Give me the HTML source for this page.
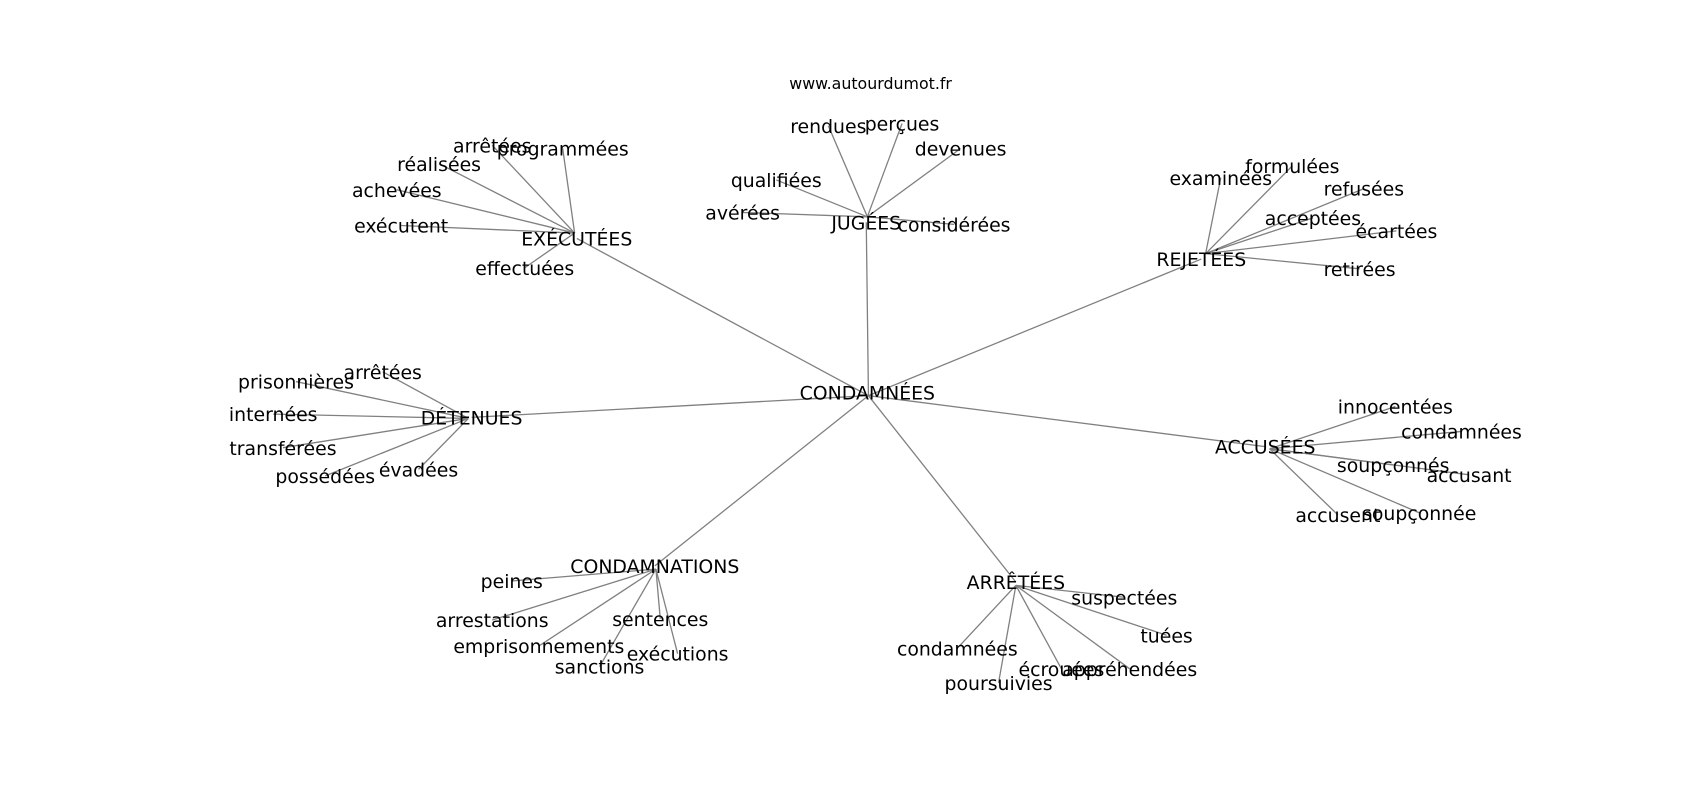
<!DOCTYPE html>
<html><head><meta charset="utf-8"><style>
html,body{margin:0;padding:0;background:#fff;width:1700px;height:800px;overflow:hidden}
svg text{font-family:"DejaVu Sans","Liberation Sans",sans-serif;font-size:17.4px;fill:#000;text-anchor:middle;dominant-baseline:central}
svg line{stroke:#808080;stroke-width:1.2}
</style></head><body>
<svg width="1700" height="800" viewBox="0 0 1568 738" preserveAspectRatio="none" xmlns="http://www.w3.org/2000/svg">
<g>
<line x1="801" y1="365" x2="799" y2="205"/>
<line x1="801" y1="365" x2="532" y2="220"/>
<line x1="801" y1="365" x2="1108" y2="239"/>
<line x1="801" y1="365" x2="435" y2="385"/>
<line x1="801" y1="365" x2="1167" y2="412"/>
<line x1="801" y1="365" x2="604" y2="522"/>
<line x1="801" y1="365" x2="937" y2="537"/>
<line x1="800" y1="200" x2="764" y2="116"/>
<line x1="800" y1="200" x2="832" y2="114"/>
<line x1="800" y1="200" x2="886" y2="137"/>
<line x1="800" y1="200" x2="716" y2="166"/>
<line x1="800" y1="200" x2="685" y2="196"/>
<line x1="800" y1="200" x2="880" y2="207"/>
<line x1="530" y1="215" x2="454" y2="134"/>
<line x1="530" y1="215" x2="519" y2="137"/>
<line x1="530" y1="215" x2="405" y2="151"/>
<line x1="530" y1="215" x2="366" y2="175"/>
<line x1="530" y1="215" x2="370" y2="208"/>
<line x1="530" y1="215" x2="484" y2="247"/>
<line x1="1112" y1="234" x2="1126" y2="164"/>
<line x1="1112" y1="234" x2="1192" y2="153"/>
<line x1="1112" y1="234" x2="1258" y2="174"/>
<line x1="1112" y1="234" x2="1211" y2="201"/>
<line x1="1112" y1="234" x2="1288" y2="213"/>
<line x1="1112" y1="234" x2="1254" y2="248"/>
<line x1="432" y1="386" x2="353" y2="343"/>
<line x1="432" y1="386" x2="273" y2="352"/>
<line x1="432" y1="386" x2="252" y2="382"/>
<line x1="432" y1="386" x2="261" y2="413"/>
<line x1="432" y1="386" x2="300" y2="439"/>
<line x1="432" y1="386" x2="386" y2="433"/>
<line x1="1171" y1="414" x2="1287" y2="375"/>
<line x1="1171" y1="414" x2="1348" y2="398"/>
<line x1="1171" y1="414" x2="1285" y2="429"/>
<line x1="1171" y1="414" x2="1355" y2="438"/>
<line x1="1171" y1="414" x2="1234" y2="475"/>
<line x1="1171" y1="414" x2="1309" y2="473"/>
<line x1="605" y1="525" x2="472" y2="536"/>
<line x1="605" y1="525" x2="454" y2="572"/>
<line x1="605" y1="525" x2="609" y2="571"/>
<line x1="605" y1="525" x2="497" y2="596"/>
<line x1="605" y1="525" x2="625" y2="603"/>
<line x1="605" y1="525" x2="553" y2="615"/>
<line x1="937" y1="540" x2="1037" y2="551"/>
<line x1="937" y1="540" x2="1076" y2="586"/>
<line x1="937" y1="540" x2="883" y2="598"/>
<line x1="937" y1="540" x2="921" y2="630"/>
<line x1="937" y1="540" x2="979" y2="617"/>
<line x1="937" y1="540" x2="1042" y2="617"/>
</g>
<g transform="translate(0,1)">
<text x="803" y="76" style="font-size:14.6px">www.autourdumot.fr</text>
<text x="800" y="362">CONDAMNÉES</text>
<text x="799" y="205">JUGÉES</text>
<text x="532" y="220">EXÉCUTÉES</text>
<text x="1108" y="239">REJETÉES</text>
<text x="435" y="385">DÉTENUES</text>
<text x="1167" y="412">ACCUSÉES</text>
<text x="604" y="522">CONDAMNATIONS</text>
<text x="937" y="537">ARRÊTÉES</text>
<text x="764" y="116">rendues</text>
<text x="832" y="114">perçues</text>
<text x="886" y="137">devenues</text>
<text x="716" y="166">qualifiées</text>
<text x="685" y="196">avérées</text>
<text x="880" y="207">considérées</text>
<text x="454" y="134">arrêtées</text>
<text x="519" y="137">programmées</text>
<text x="405" y="151">réalisées</text>
<text x="366" y="175">achevées</text>
<text x="370" y="208">exécutent</text>
<text x="484" y="247">effectuées</text>
<text x="1126" y="164">examinées</text>
<text x="1192" y="153">formulées</text>
<text x="1258" y="174">refusées</text>
<text x="1211" y="201">acceptées</text>
<text x="1288" y="213">écartées</text>
<text x="1254" y="248">retirées</text>
<text x="353" y="343">arrêtées</text>
<text x="273" y="352">prisonnières</text>
<text x="252" y="382">internées</text>
<text x="261" y="413">transférées</text>
<text x="300" y="439">possédées</text>
<text x="386" y="433">évadées</text>
<text x="1287" y="375">innocentées</text>
<text x="1348" y="398">condamnées</text>
<text x="1285" y="429">soupçonnés</text>
<text x="1355" y="438">accusant</text>
<text x="1234" y="475">accusent</text>
<text x="1309" y="473">soupçonnée</text>
<text x="472" y="536">peines</text>
<text x="454" y="572">arrestations</text>
<text x="609" y="571">sentences</text>
<text x="497" y="596">emprisonnements</text>
<text x="625" y="603">exécutions</text>
<text x="553" y="615">sanctions</text>
<text x="1037" y="551">suspectées</text>
<text x="1076" y="586">tuées</text>
<text x="883" y="598">condamnées</text>
<text x="921" y="630">poursuivies</text>
<text x="979" y="617">écrouées</text>
<text x="1042" y="617">appréhendées</text>
</g>
</svg>
</body></html>
